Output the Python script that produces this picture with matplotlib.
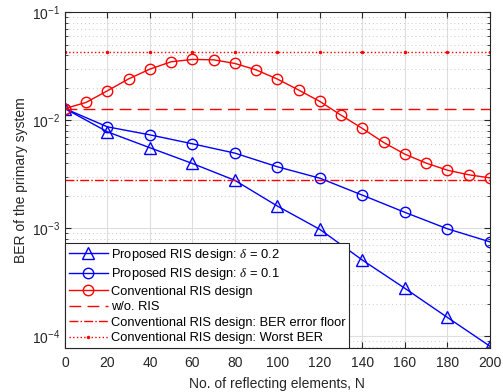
import numpy as np
import matplotlib
matplotlib.use("Agg")
import matplotlib.pyplot as plt
from matplotlib.ticker import LogLocator, NullFormatter, MultipleLocator

plt.rcParams['font.family'] = ['Liberation Sans', 'DejaVu Sans']
plt.rcParams['mathtext.fontset'] = 'custom'
plt.rcParams['mathtext.rm'] = 'Liberation Sans'
plt.rcParams['mathtext.it'] = 'Liberation Serif:italic'

# data
n_conv = np.arange(0, 201, 10)
ber_conv = [0.0128, 0.0146, 0.0187, 0.0241, 0.0297, 0.0347, 0.0365, 0.0362, 0.0335,
            0.0292, 0.0240, 0.0190, 0.0149, 0.0111, 0.00837, 0.00621, 0.00484,
            0.00400, 0.00344, 0.00312, 0.00292]
n_prop = np.arange(0, 201, 20)
ber_d02 = [0.0128, 0.0078, 0.00555, 0.00397, 0.00277, 0.00160, 0.000973,
           0.000506, 0.000277, 0.000149, 8.07e-5]
ber_d01 = [0.0128, 0.00867, 0.00731, 0.00604, 0.00495, 0.00370, 0.00290,
           0.00202, 0.00140, 0.000986, 0.000747]
ber_no_ris = 0.0128
ber_floor = 0.00277
ber_worst = 0.0430

labels = ['Proposed RIS design: $\\delta$ = 0.2',
          'Proposed RIS design: $\\delta$ = 0.1',
          'Conventional RIS design',
          'w/o. RIS',
          'Conventional RIS design: BER error floor',
          'Conventional RIS design: Worst BER']

fig = plt.figure(figsize=(5.03, 3.92), dpi=100)
ax = fig.add_axes([0.129, 0.112, 0.845, 0.857])

ax.semilogy(n_prop, ber_d02, '-^', color='#0000ff', lw=1.0, ms=8, mfc='none', mew=1.0, label=labels[0])
ax.semilogy(n_prop, ber_d01, '-o', color='#0000ff', lw=1.0, ms=7.5, mfc='none', mew=1.0, label=labels[1])
ax.semilogy(n_conv, ber_conv, '-o', color='#ff0000', lw=1.0, ms=7.5, mfc='none', mew=1.0, label=labels[2])
ax.semilogy(n_prop, [ber_no_ris] * len(n_prop), '--', color='#ff0000', lw=1.0, dashes=(8.5, 4.5), label=labels[3])
ax.semilogy(n_prop, [ber_floor] * len(n_prop), '-.', color='#ff0000', lw=1.0, label=labels[4])
ax.semilogy(n_prop, [ber_worst] * len(n_prop), ':', marker='.', ms=3, color='#ff0000', lw=1.0, label=labels[5])

ax.set_xlim(0, 200)
ax.set_ylim(7.75e-5, 0.1)
ax.xaxis.set_major_locator(MultipleLocator(20))
ax.yaxis.set_major_locator(LogLocator(base=10, numticks=10))
ax.yaxis.set_minor_locator(LogLocator(base=10, subs=np.arange(2, 10), numticks=10))
ax.yaxis.set_minor_formatter(NullFormatter())

ax.grid(True, which='major', color='#dedede', lw=0.8, ls='-')
ax.grid(True, which='minor', axis='y', color='#c8c8c8', lw=0.7, ls=(0, (1, 3)))
ax.set_axisbelow(True)

ax.tick_params(which='both', direction='in', top=True, right=True, colors='#262626', labelsize=10)
ax.tick_params(which='major', length=4)
ax.tick_params(which='minor', length=2.5)
ax.tick_params(axis='x', pad=6)
for s in ax.spines.values():
    s.set_color('#262626')
    s.set_linewidth(0.8)

ax.set_xlabel('No. of reflecting elements, N', fontsize=10, color='#262626', labelpad=5)
ax.set_ylabel('BER of the primary system', fontsize=10, color='#262626', labelpad=3)

leg = ax.legend(loc='lower left', bbox_to_anchor=(0, 0), borderaxespad=0, fontsize=9.3,
                handlelength=3.0, handletextpad=0.25, labelspacing=0.27, borderpad=0.3,
                fancybox=False, framealpha=1, edgecolor='#262626')
leg.get_frame().set_linewidth(0.8)
for t in leg.get_texts():
    t.set_color('#000000')

fig.savefig('out.png', dpi=100)
